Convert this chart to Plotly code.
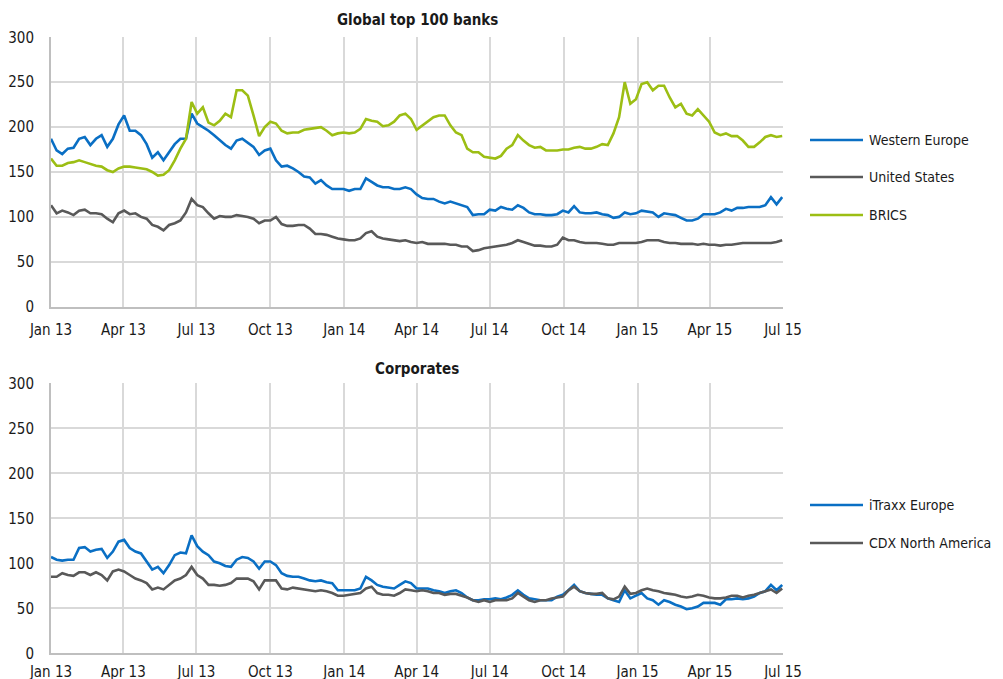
import pandas as pd
import plotly.graph_objects as go

# ---------------- data (weekly readings) ----------------
start_date = "2013-01-01"

western_europe = [
    187, 174, 170, 176, 177, 187, 189, 180, 187, 191, 178, 187, 203, 213, 196, 196, 191, 181, 166, 172,
    163, 172, 181, 187, 187, 215, 204, 200, 196, 191, 185, 180, 176, 185, 187, 183, 178, 169, 174, 176,
    163, 156, 157, 154, 150, 145, 144, 137, 141, 135, 131, 131, 131, 129, 131, 131, 143, 139, 135, 133,
    133, 131, 131, 133, 131, 125, 121, 120, 120, 117, 115, 117, 115, 113, 111, 102, 103, 103, 108, 107,
    111, 109, 108, 113, 110, 105, 103, 103, 102, 102, 103, 107, 105, 112, 105, 104, 104, 105, 103, 102,
    99, 100, 105, 103, 104, 107, 106, 105, 100, 104, 103, 102, 99, 96, 96, 98, 103, 103, 103, 105,
    109, 107, 110, 110, 111, 111, 111, 113, 122, 114, 122,
]
united_states = [
    113, 104, 107, 105, 102, 107, 108, 104, 104, 103, 98, 94, 104, 107, 103, 104, 100, 98, 91, 89,
    85, 91, 93, 96, 105, 120, 113, 111, 104, 98, 101, 100, 100, 102, 101, 100, 98, 93, 96, 96,
    100, 92, 90, 90, 91, 91, 87, 81, 81, 80, 78, 76, 75, 74, 74, 76, 82, 84, 78, 76,
    75, 74, 73, 74, 72, 71, 72, 70, 70, 70, 70, 69, 69, 67, 67, 62, 63, 65, 66, 67,
    68, 69, 71, 74, 72, 70, 68, 68, 67, 67, 69, 77, 74, 74, 72, 71, 71, 71, 70, 69,
    69, 71, 71, 71, 71, 72, 74, 74, 74, 72, 71, 71, 70, 70, 70, 69, 70, 69, 69, 68,
    69, 69, 70, 71, 71, 71, 71, 71, 71, 72, 74,
]
brics = [
    165, 157, 157, 160, 161, 163, 161, 159, 157, 156, 152, 150, 154, 156, 156, 155, 154, 153, 150, 146,
    147, 152, 163, 176, 187, 228, 215, 222, 205, 202, 207, 215, 211, 241, 241, 235, 213, 190, 200, 206,
    204, 196, 193, 194, 194, 197, 198, 199, 200, 196, 191, 193, 194, 193, 194, 198, 209, 207, 206, 201,
    202, 206, 213, 215, 209, 197, 202, 207, 211, 213, 213, 202, 194, 191, 176, 172, 172, 167, 166, 165,
    168, 176, 180, 191, 185, 180, 177, 178, 174, 174, 174, 175, 175, 177, 178, 176, 176, 178, 181, 180,
    193, 211, 250, 226, 231, 248, 250, 241, 246, 246, 233, 222, 226, 215, 213, 220, 213, 206, 194, 191,
    193, 190, 190, 185, 178, 178, 183, 189, 191, 189, 190,
]
itraxx_europe = [
    107, 104, 103, 104, 104, 117, 118, 113, 115, 116, 106, 113, 124, 126, 117, 113, 111, 102, 93, 96,
    89, 98, 109, 112, 111, 131, 119, 113, 109, 102, 100, 97, 96, 104, 107, 106, 102, 94, 102, 102,
    98, 89, 86, 85, 85, 83, 81, 80, 81, 79, 78, 70, 70, 70, 70, 72, 85, 81, 76, 74,
    73, 72, 76, 80, 78, 72, 72, 72, 70, 69, 67, 69, 70, 67, 62, 59, 59, 60, 60, 61,
    60, 62, 65, 70, 65, 61, 60, 59, 59, 59, 63, 65, 70, 76, 69, 67, 66, 65, 65, 61,
    59, 57, 70, 61, 64, 67, 61, 59, 54, 59, 57, 54, 52, 49, 50, 52, 56, 56, 56, 54,
    60, 60, 61, 60, 61, 63, 67, 69, 76, 70, 76,
]
cdx_north_america = [
    85, 85, 89, 87, 86, 90, 90, 87, 90, 87, 81, 91, 93, 91, 87, 83, 81, 78, 71, 73,
    71, 76, 81, 83, 87, 96, 87, 83, 76, 76, 75, 76, 78, 83, 83, 83, 80, 71, 81, 81,
    81, 72, 71, 73, 72, 71, 70, 69, 70, 69, 67, 64, 64, 65, 66, 67, 72, 74, 67, 65,
    65, 64, 67, 71, 70, 69, 70, 69, 67, 67, 65, 66, 66, 64, 62, 59, 57, 59, 57, 59,
    59, 59, 61, 67, 63, 59, 57, 59, 59, 61, 62, 63, 70, 74, 69, 67, 66, 66, 67, 61,
    60, 63, 74, 66, 67, 70, 72, 70, 69, 67, 66, 65, 63, 62, 63, 65, 64, 62, 61, 61,
    62, 64, 64, 62, 64, 65, 67, 69, 71, 67, 72,
]

top_names = ["Western Europe", "United States", "BRICS"]
bottom_names = ["iTraxx Europe", "CDX North America"]
top_title = "Global top 100 banks"
bottom_title = "Corporates"

tick_dates = ["2013-01-01", "2013-04-01", "2013-07-01", "2013-10-01", "2014-01-01",
              "2014-04-01", "2014-07-01", "2014-10-01", "2015-01-01", "2015-04-01", "2015-07-01"]
tick_labels = ["Jan 13", "Apr 13", "Jul 13", "Oct 13", "Jan 14", "Apr 14",
               "Jul 14", "Oct 14", "Jan 15", "Apr 15", "Jul 15"]
y_ticks = [0, 50, 100, 150, 200, 250, 300]

# ---------------- styling ----------------
W, H = 1003, 679
OFF = 8  # page body margin of the browser
FONT = "DejaVu Sans Condensed, Liberation Sans Narrow, Arial Narrow, sans-serif"
FS = 15
LFS = 14
BLUE, GREY, GREEN = "#0A6FC4", "#595959", "#9CBE14"
GRID = "#d9d9d9"
TEXT = "#1a1a1a"

dates = pd.date_range(start_date, periods=len(western_europe), freq="7D")

fig = go.Figure()

top_series = [western_europe, united_states, brics]
top_colors = [BLUE, GREY, GREEN]
bottom_series = [itraxx_europe, cdx_north_america]
bottom_colors = [BLUE, GREY]

for name, vals, col in zip(top_names, top_series, top_colors):
    fig.add_trace(go.Scatter(x=dates, y=vals, name=name, mode="lines",
                             line=dict(color=col, width=2.6), xaxis="x", yaxis="y",
                             showlegend=False))
for name, vals, col in zip(bottom_names, bottom_series, bottom_colors):
    fig.add_trace(go.Scatter(x=dates, y=vals, name=name, mode="lines",
                             line=dict(color=col, width=2.6), xaxis="x2", yaxis="y2",
                             showlegend=False))


def px_x(p):
    return (p - OFF) / W


def px_y(p):
    return 1 - (p - OFF) / H


xdom = [px_x(51), px_x(783)]
top_dom = [px_y(306.7), px_y(37.3)]
bot_dom = [px_y(653.3), px_y(383.3)]

xaxis_common = dict(
    type="date", range=["2013-01-01", "2015-07-01"], tickvals=tick_dates, ticktext=tick_labels,
    showgrid=True, gridcolor=GRID, gridwidth=1.5, showline=True, linecolor="#bfbfbf", linewidth=2,
    ticks="", tickfont=dict(family=FONT, size=FS, color=TEXT),
    zeroline=False, fixedrange=True, automargin=False,
)
yaxis_common = dict(
    range=[0, 300], tickvals=y_ticks, showgrid=True, gridcolor=GRID, gridwidth=1.5,
    showline=True, linecolor="#bfbfbf", linewidth=2, ticks="",
    tickfont=dict(family=FONT, size=FS, color=TEXT), ticklabelstandoff=12,
    zeroline=False, fixedrange=True, automargin=False,
)

fig.update_layout(
    width=W, height=H, margin=dict(l=0, r=0, t=0, b=0),
    paper_bgcolor="white", plot_bgcolor="white",
    font=dict(family=FONT, size=FS, color=TEXT),
    xaxis=dict(domain=xdom, anchor="y", ticklabelstandoff=8, **xaxis_common),
    yaxis=dict(domain=top_dom, anchor="x", **yaxis_common),
    xaxis2=dict(domain=xdom, anchor="y2", ticklabelstandoff=4, **xaxis_common),
    yaxis2=dict(domain=bot_dom, anchor="x2", **yaxis_common),
    showlegend=False,
)

# titles
fig.add_annotation(text="<b>" + top_title + "</b>", x=(xdom[0] + xdom[1]) / 2, y=px_y(20),
                   xref="paper", yref="paper", showarrow=False,
                   font=dict(family=FONT, size=FS, color=TEXT), yanchor="middle")
fig.add_annotation(text="<b>" + bottom_title + "</b>", x=(xdom[0] + xdom[1]) / 2, y=px_y(369),
                   xref="paper", yref="paper", showarrow=False,
                   font=dict(family=FONT, size=FS, color=TEXT), yanchor="middle")


# manual legends
def add_legend(names, colors, y_positions):
    for name, col, yp in zip(names, colors, y_positions):
        fig.add_shape(type="line", xref="paper", yref="paper",
                      x0=px_x(810), x1=px_x(863), y0=px_y(yp), y1=px_y(yp),
                      line=dict(color=col, width=2.6))
        fig.add_annotation(text=name, x=px_x(867), y=px_y(yp), xref="paper", yref="paper",
                           showarrow=False, xanchor="left", yanchor="middle",
                           font=dict(family=FONT, size=LFS, color=TEXT))


add_legend(top_names, top_colors, [140, 177, 215])
add_legend(bottom_names, bottom_colors, [505, 543])

fig.write_html("out.html")
